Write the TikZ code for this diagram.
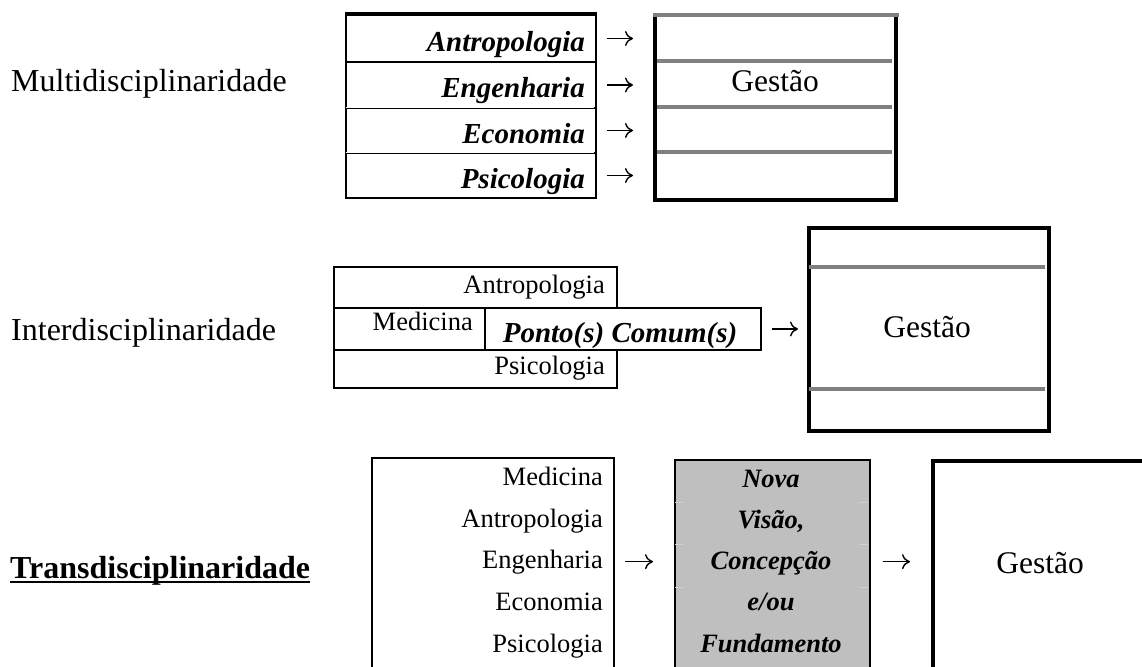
\documentclass[tikz,border=0pt]{standalone}
\usepackage{fontspec}
\setmainfont{Liberation Serif}
\usetikzlibrary{arrows.meta,positioning}

\tikzset{
    rotulo/.style={anchor=base west, inner sep=0pt, font=\fontsize{32}{38}\selectfont},
    disc/.style={anchor=base east, inner sep=0pt, font=\fontsize{29}{34}\selectfont\bfseries\itshape},
    txt/.style={inner sep=0pt, font=\fontsize{26.5}{32}\selectfont},
    novo/.style={anchor=base, inner sep=0pt, font=\fontsize{26.5}{32}\selectfont\bfseries\itshape},
    gestao/.style={anchor=base, inner sep=0pt, font=\fontsize{31.5}{38}\selectfont},
    caixa/.style={draw, line width=2pt, anchor=north west, inner sep=0pt},
    grossa/.style={line width=4pt},
    cinza/.style={line width=4pt, color=black!50},
    seta/.style={line width=1.4pt, -{To[length=8pt,width=15pt]}}
}

\begin{document}
\begin{tikzpicture}[x=1pt, y=-1pt]

    \useasboundingbox (0,0) rectangle (1142,666);
    \clip (0,0) rectangle (1142,666);

    % Multidisciplinaridade
    \node[rotulo] (multi) at (11,92) {Multidisciplinaridade};

    \node[caixa, draw=none, minimum width=239pt, minimum height=183pt] (g1) at (655,15) {};
    \draw[grossa] (g1.north west) -- (g1.south west) -- (g1.south east) -- (g1.north east);
    \draw[cinza] ([xshift=-2pt]g1.north west) -- ([xshift=3pt]g1.north east);
    \foreach \yy in {61,107,152}
        \draw[cinza] (657,\yy) -- (892,\yy);
    \node[gestao] (g1t) at (775,92) {Gestão};

    \foreach \nome/\disciplina/\yy/\hh in {ma/Antropologia/14/47, me/Engenharia/61/46,
                                         mc/Economia/107/45, mp/Psicologia/152/45} {
        \node[caixa, minimum width=250pt, minimum height=\hh pt] (\nome) at (345,\yy) {};
        \node[disc] (\nome-t) at ([xshift=-12pt,yshift=-13pt]\nome.east) {\disciplina};
        \draw[seta, shorten <=10pt, shorten >=22pt] (\nome.east) -- (\nome.east -| g1.west);
    }
    \draw[line width=3pt] (ma.north west) -- (ma.north east);
    \foreach \yy in {107,152}
        \draw[white, line width=0.8pt] (346,\yy) -- (594,\yy);

    % Interdisciplinaridade
    \node[rotulo] (inter) at (11,340) {Interdisciplinaridade};

    \node[caixa, minimum width=283pt, minimum height=41pt] (ia) at (333,266) {};
    \node[caixa, minimum width=151pt, minimum height=42pt] (im) at (333,307) {};
    \node[caixa, minimum width=276pt, minimum height=42pt] (ip) at (484,307) {};
    \node[caixa, minimum width=283pt, minimum height=38pt] (is) at (333,349) {};
    \node[txt, anchor=base east] (ia-t) at (605,293) {Antropologia};
    \node[txt, anchor=base east] (im-t) at (473,330) {Medicina};
    \node[disc, anchor=base] (ip-t) at (620,342) {Ponto(s) Comum(s)};
    \node[txt, anchor=base east] (is-t) at (605,374) {Psicologia};

    \node[caixa, line width=4pt, minimum width=240pt, minimum height=203pt] (g2) at (807,226) {};
    \foreach \yy in {267,389}
        \draw[cinza] (809,\yy) -- (1045,\yy);
    \node[gestao] (g2t) at (927,337) {Gestão};
    \draw[seta, shorten <=10pt, shorten >=9pt] (ip.east) -- (ip.east -| g2.west);

    % Transdisciplinaridade
    \node[rotulo, font=\fontsize{32}{38}\selectfont\bfseries] (trans) at (10,578) {Transdisciplinaridade};
    \draw[line width=2pt] ([yshift=-4pt]trans.base west) -- ([yshift=-4pt]trans.base east);

    \node[caixa, minimum width=242pt, minimum height=260pt] (t1) at (371,457) {};
    \foreach \nome/\disciplina/\yy in {tm/Medicina/485, ta/Antropologia/527, te/Engenharia/568,
                                      tc/Economia/610, tp/Psicologia/652}
        \node[txt, anchor=base east] (\nome) at (603,\yy) {\disciplina};

    \node[caixa, line width=1.5pt, fill=black!25, minimum width=195pt, minimum height=260pt] (t2) at (674,459) {};
    \foreach \yy in {502,544,587} {
        \draw[black!18, line width=1pt] (675,\yy) -- (683,\yy);
        \draw[black!18, line width=1pt] (859,\yy) -- (868,\yy);
    }
    \foreach \nome/\linha/\yy in {n1/Nova/487, n2/{Visão,}/528, n3/Concepção/569,
                                 n4/e\slash ou/610, n5/Fundamento/652}
        \node[novo] (\nome) at (771,\yy) {\linha};

    \node[caixa, line width=4pt, minimum width=300pt, minimum height=260pt] (t3) at (931,459) {};
    \node[gestao] (t3t) at (1040,573) {Gestão};

    \draw[seta, shorten <=10pt, shorten >=21pt] (te.east -| t1.east) -- (te.east -| t2.west);
    \draw[seta, shorten <=12pt, shorten >=21pt] (te.east -| t2.east) -- (te.east -| t3.west);

\end{tikzpicture}
\end{document}
